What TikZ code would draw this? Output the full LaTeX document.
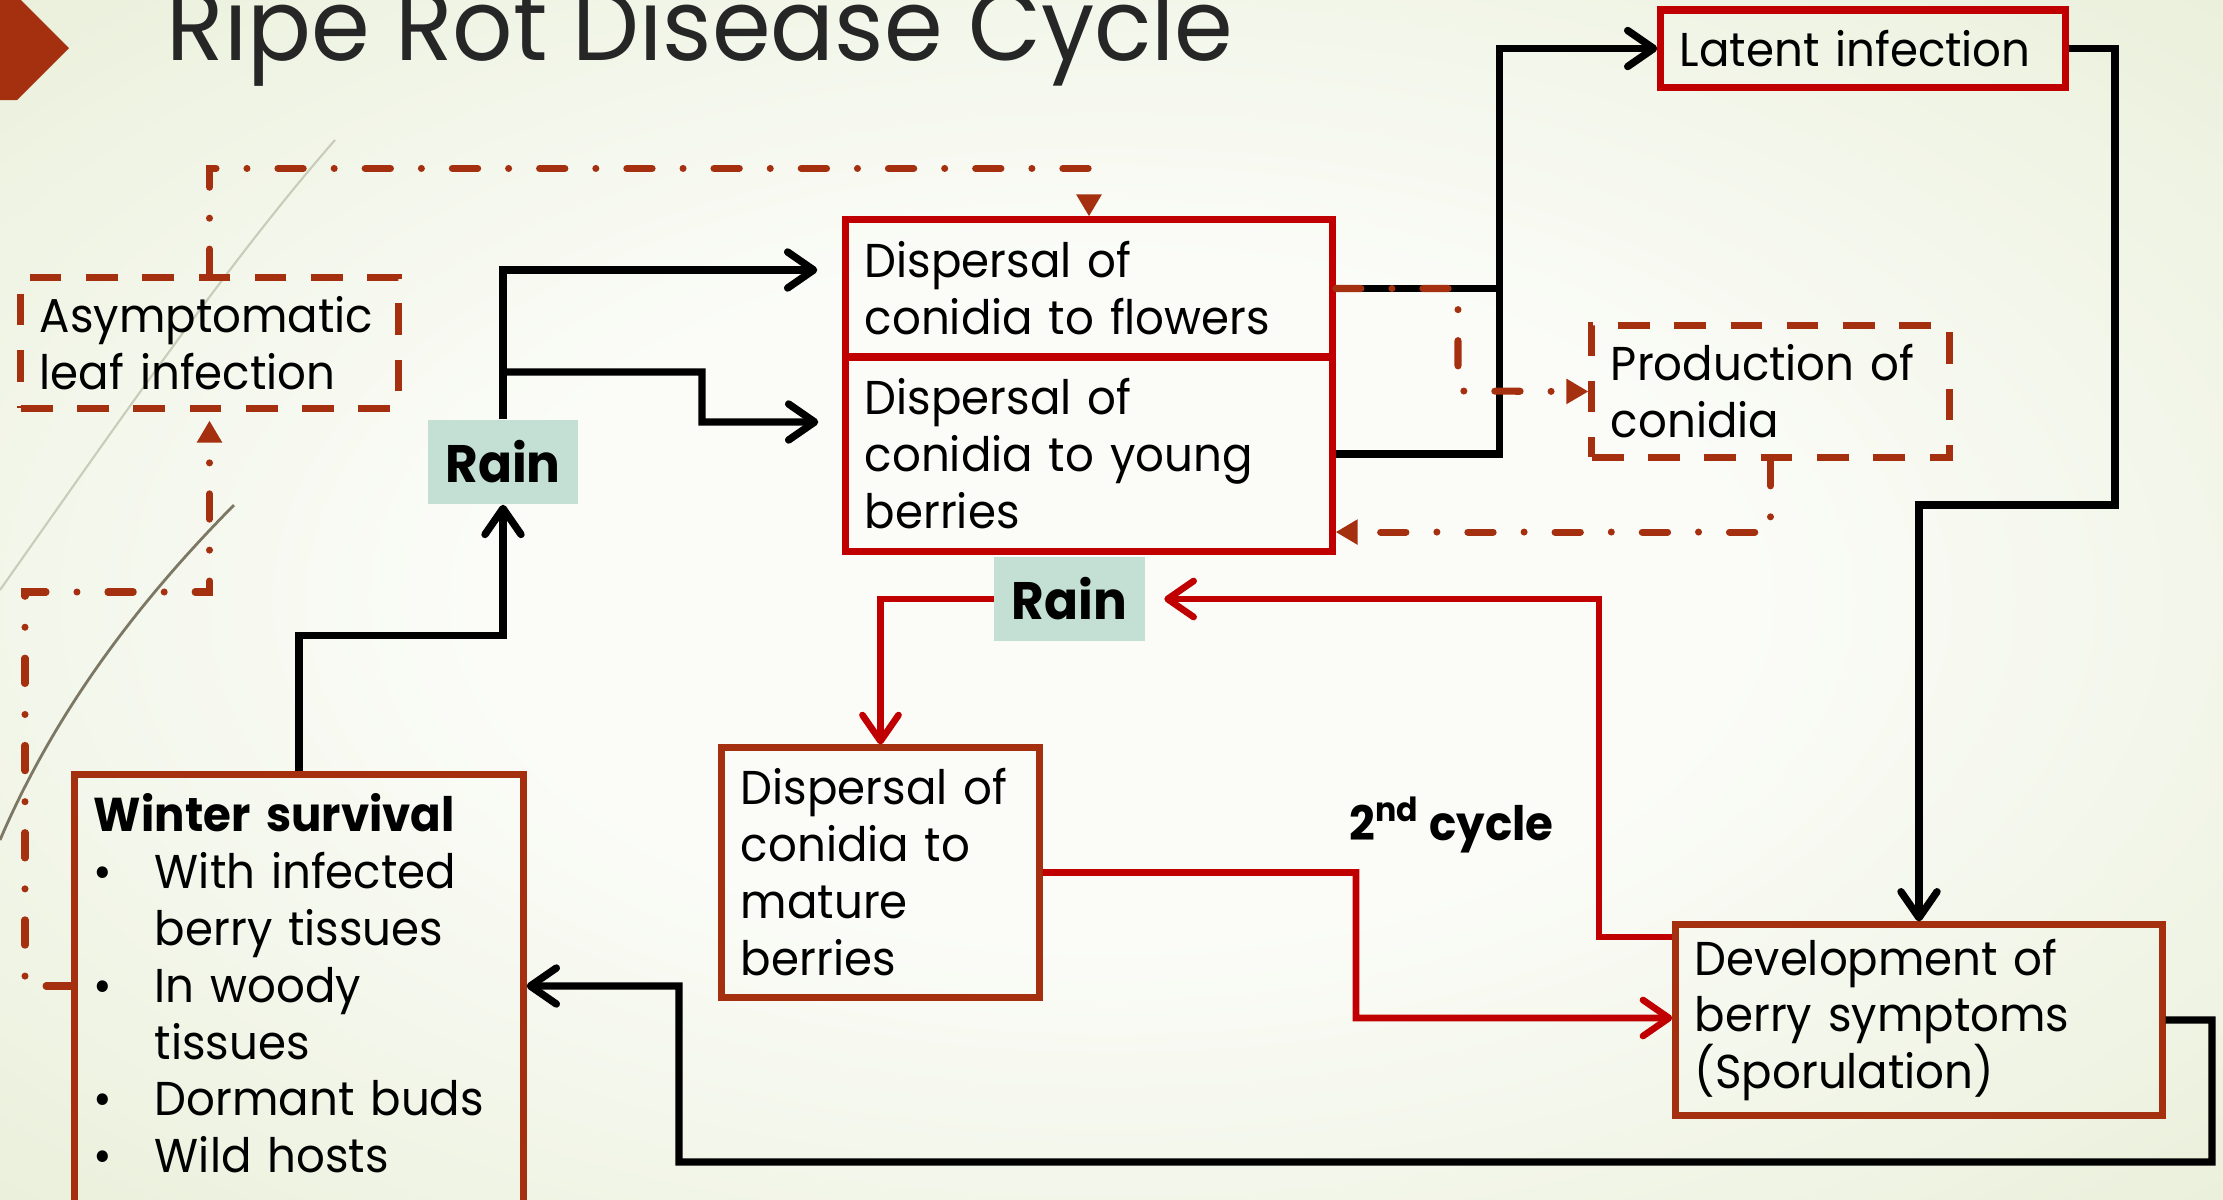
\documentclass[tikz,border=0pt]{standalone}
\usepackage{fontspec}
\setmainfont{Poppins}[FakeStretch=0.95]
\usetikzlibrary{arrows.meta}

\definecolor{boxred}{RGB}{192,0,0}
\definecolor{rust}{RGB}{165,48,15}
\definecolor{rainfill}{RGB}{196,224,213}
\definecolor{bgin}{RGB}{251,252,248}
\definecolor{bgout}{RGB}{223,232,200}
\definecolor{titlegray}{RGB}{38,38,38}
\definecolor{leafline}{RGB}{200,204,184}
\definecolor{stemline}{RGB}{125,120,100}

\pgfdeclareradialshading{slidebg}{\pgfpoint{0bp}{0bp}}{color(0bp)=(bgin); color(14bp)=(bgin); color(50bp)=(bgout); color(72bp)=(bgout)}

\begin{document}
\begin{tikzpicture}[x=0.01cm, y=-0.01cm, line join=miter,
    box/.style = {draw=boxred, line width=2pt, align=left, inner xsep=0.19cm, inner ysep=0pt,
                  font=\fontsize{13.5}{16.2}\selectfont},
    brownbox/.style = {box, draw=rust},
    dashbox/.style = {brownbox, dash pattern=on 9pt off 7pt},
    rain/.style = {fill=rainfill, minimum width=1.5cm, minimum height=0.84cm, inner sep=0pt,
                   font=\fontsize{15}{18}\selectfont\bfseries},
    blackarrow/.style = {line width=2.1pt, -{Straight Barb[length=2.6mm, width=3.6mm, round]}},
    redarrow/.style = {draw=boxred, line width=1.9pt, -{Straight Barb[length=2.6mm, width=3.6mm, round]}},
    dasharrow/.style = {draw=rust, line width=2pt, line cap=round,
                        dash pattern=on 7.2pt off 8.8pt on 0pt off 8.8pt,
                        -{Triangle[length=2.2mm, width=2.4mm]}}]

    % slide background
    \useasboundingbox (0,0) rectangle (2223,1199);
    \shade[shading=slidebg] (0,0) rectangle (2223,1199);
    \draw[leafline, line width=0.6pt] (0,590) .. controls (120,420) and (230,260) .. (335,140);
    \draw[stemline, line width=0.8pt] (0,840) .. controls (60,700) and (150,590) .. (234,505);
    \fill[rust] (0,-4) -- (17,-4) -- (69,48) -- (17,100) -- (0,100) -- cycle;
    \node[anchor=base west, inner sep=0pt, text=titlegray, font=\fontsize{28.3}{34}\selectfont] (title) at (166,60) {Ripe Rot Disease Cycle};

    % boxes
    \node[box, text width=4.48cm, minimum height=1.37cm] (flowers) at (1089,288.5) {Dispersal of\\conidia to flowers};
    \node[box, text width=4.48cm, minimum height=1.94cm] (young) at (1089,454) {Dispersal of\\conidia to young\\berries};
    \node[box, text width=3.66cm, minimum height=0.77cm] (latent) at (1863,48.5) {Latent infection};
    \node[dashbox, text width=3.19cm, minimum height=1.31cm] (prod) at (1770.5,391.5) {Production of\\conidia};
    \node[dashbox, text width=3.39cm, minimum height=1.30cm] (asym) at (209.5,343) {Asymptomatic\\leaf infection};
    \node[brownbox, text width=2.79cm, minimum height=2.49cm] (mature) at (880.5,872.5) {Dispersal of\\conidia to\\mature\\berries};
    \node[brownbox, text width=4.48cm, minimum height=1.90cm] (devel) at (1919,1020) {Development of\\berry symptoms\\(Sporulation)};
    \node[brownbox, text width=4.10cm, minimum height=4.40cm] (winter) at (299,995) {\textbf{Winter survival}\\
        \makebox[0.61cm][l]{\textbullet}With infected\\
        \hspace*{0.61cm}berry tissues\\
        \makebox[0.61cm][l]{\textbullet}In woody\\
        \hspace*{0.61cm}tissues\\
        \makebox[0.61cm][l]{\textbullet}Dormant buds\\
        \makebox[0.61cm][l]{\textbullet}Wild hosts\\[-0.33cm]\mbox{}};
    \node[rain] (rainA) at (503,462) {Rain};
    \node[rain] (rainB) at (1069.5,599) {Rain};
    \node[anchor=base west, inner sep=0pt, font=\fontsize{13.5}{16}\selectfont\bfseries] (cycle) at (1349,840) {2\textsuperscript{nd} cycle};

    % primary cycle
    \coordinate (split) at (503,372);
    \draw[blackarrow] (winter.north) -- ++(0,-136) -| (rainA.south);
    \draw[blackarrow, shorten >=0.25cm] (rainA.north) |- ([yshift=0.185cm]flowers.west);
    \draw[blackarrow, shorten >=0.24cm] (split) -| (702,422) -- ([yshift=0.32cm]young.west);
    \draw[line width=2.1pt] (flowers.east) -- ++(164,0);
    \draw[blackarrow] (young.east) -- ++(164,0) |- (latent.west);
    \draw[blackarrow] (latent.east) -| (2115,505) -| (devel.north);
    \draw[blackarrow] (devel.east) -| (2212,1162) -| (679,986) -- ([yshift=0.09cm]winter.east);

    % 2nd cycle
    \draw[redarrow, shorten >=0.19cm] ([yshift=0.83cm]devel.west) -| (1599,599) -- (rainB.east);
    \draw[redarrow] (rainB.west) -| (mature.north);
    \draw[redarrow] (mature.east) -| (1356,1018) -- ([yshift=0.02cm]devel.west);

    % leaf infections
    \draw[dasharrow] (asym.north) -- ++(0,-106) -| (flowers.north);
    \draw[dasharrow, shorten >=0.09cm] ([yshift=0.09cm]winter.west) -| (25,592) -| (asym.south);
    \draw[dasharrow] (flowers.east) -| (1458,391) -- (prod.west);
    \draw[dasharrow] (prod.south) |- ([yshift=-0.78cm]young.east);
\end{tikzpicture}
\end{document}
